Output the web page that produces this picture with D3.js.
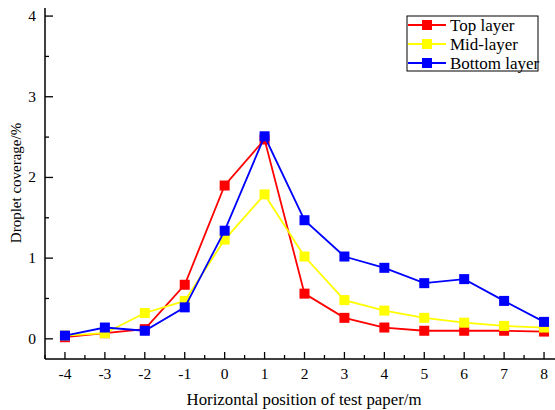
<!DOCTYPE html>
<html>
<head>
<meta charset="utf-8">
<script src="https://cdn.jsdelivr.net/npm/d3@7"></script>
<style>
  body { margin: 0; background: #fff; }
  svg text { font-family: 'Liberation Serif', 'Times New Roman', 'DejaVu Serif', serif; }
</style>
</head>
<body>
<div id="chart"></div>
<script>
var positions = [-4, -3, -2, -1, 0, 1, 2, 3, 4, 5, 6, 7, 8];
var topLayer = [0.02, 0.07, 0.12, 0.67, 1.9, 2.47, 0.56, 0.26, 0.14, 0.1, 0.1, 0.1, 0.09];
var midLayer = [0.04, 0.07, 0.32, 0.47, 1.23, 1.79, 1.02, 0.48, 0.35, 0.26, 0.2, 0.16, 0.14];
var bottomLayer = [0.04, 0.14, 0.1, 0.39, 1.34, 2.51, 1.47, 1.02, 0.88, 0.69, 0.74, 0.47, 0.21];
var yTicks = [0, 1, 2, 3, 4];
var seriesNames = ["Top layer", "Mid-layer", "Bottom layer"];
var seriesColors = ["#ff0000", "#ffff00", "#0000ff"];

var series = [topLayer, midLayer, bottomLayer].map(function(vals, i) {
  return {name: seriesNames[i], color: seriesColors[i],
    values: vals.map(function(v, j) { return {x: positions[j], y: v}; })};
});

var W = 555, H = 410;
var mLeft = 45, mRight = 564, mTop = 8, mBottom = 359;

var svg = d3.select("#chart").append("svg")
  .attr("width", W).attr("height", H);

var x = d3.scaleLinear().domain([-4.5, 8.5]).range([mLeft, mRight]);
var y = d3.scaleLinear().domain([-0.25, 4.1]).range([mBottom, mTop]);

// minor ticks
var xMinor = d3.range(-4.5, 8.51, 0.5).filter(function(d) { return d % 1 !== 0; });
var yMinor = d3.range(-0.5, 4.01, 0.5).filter(function(d) { return d % 1 !== 0 && d > -0.25; });

var gx = svg.append("g").attr("transform", "translate(0," + mBottom + ")");
gx.append("line").attr("x1", mLeft).attr("x2", mRight).attr("stroke", "#000").attr("stroke-width", 1.5);
gx.selectAll(".maj").data(positions).enter().append("line")
  .attr("x1", function(d) { return x(d); }).attr("x2", function(d) { return x(d); })
  .attr("y1", 0).attr("y2", -7).attr("stroke", "#000").attr("stroke-width", 1.3);
gx.selectAll(".min").data(xMinor).enter().append("line")
  .attr("x1", function(d) { return x(d); }).attr("x2", function(d) { return x(d); })
  .attr("y1", 0).attr("y2", -4).attr("stroke", "#000").attr("stroke-width", 1.3);
gx.selectAll("text").data(positions).enter().append("text")
  .attr("x", function(d) { return x(d); }).attr("y", 20)
  .attr("text-anchor", "middle").attr("font-size", 15.5)
  .text(function(d) { return d; });

var gy = svg.append("g").attr("transform", "translate(" + mLeft + ",0)");
gy.append("line").attr("y1", mTop).attr("y2", mBottom).attr("stroke", "#000").attr("stroke-width", 1.5);
gy.selectAll(".maj").data(yTicks).enter().append("line")
  .attr("y1", function(d) { return y(d); }).attr("y2", function(d) { return y(d); })
  .attr("x1", 0).attr("x2", 8).attr("stroke", "#000").attr("stroke-width", 1.3);
gy.selectAll(".min").data(yMinor).enter().append("line")
  .attr("y1", function(d) { return y(d); }).attr("y2", function(d) { return y(d); })
  .attr("x1", 0).attr("x2", 4).attr("stroke", "#000").attr("stroke-width", 1.3);
gy.selectAll("text").data(yTicks).enter().append("text")
  .attr("x", -9).attr("y", function(d) { return y(d) + 5; })
  .attr("text-anchor", "end").attr("font-size", 15.5)
  .text(function(d) { return d; });

svg.append("text")
  .attr("transform", "translate(21,183) rotate(-90)")
  .attr("text-anchor", "middle").attr("font-size", 15)
  .text("Droplet coverage/%");

svg.append("text")
  .attr("x", 304).attr("y", 405)
  .attr("text-anchor", "middle").attr("font-size", 16.8)
  .text("Horizontal position of test paper/m");

var line = d3.line().x(function(d) { return x(d.x); }).y(function(d) { return y(d.y); });

series.forEach(function(s) {
  svg.append("path").datum(s.values)
    .attr("fill", "none").attr("stroke", s.color).attr("stroke-width", 1.8)
    .attr("d", line);
  svg.selectAll(null).data(s.values).enter().append("rect")
    .attr("x", function(d) { return x(d.x) - 5; })
    .attr("y", function(d) { return y(d.y) - 5; })
    .attr("width", 10).attr("height", 10)
    .attr("fill", s.color);
});

// legend
var lg = svg.append("g").attr("transform", "translate(407,16)");
lg.append("rect").attr("width", 131).attr("height", 55)
  .attr("fill", "#fff").attr("stroke", "#000").attr("stroke-width", 1);
series.forEach(function(s, i) {
  var yy = 9 + i * 19;
  lg.append("line").attr("x1", 1).attr("x2", 39).attr("y1", yy).attr("y2", yy)
    .attr("stroke", s.color).attr("stroke-width", 1.8);
  lg.append("rect").attr("x", 15).attr("y", yy - 5).attr("width", 10).attr("height", 10)
    .attr("fill", s.color);
  lg.append("text").attr("x", 43).attr("y", yy + 5.5).attr("font-size", 17)
    .text(s.name);
});
</script>
</body>
</html>
